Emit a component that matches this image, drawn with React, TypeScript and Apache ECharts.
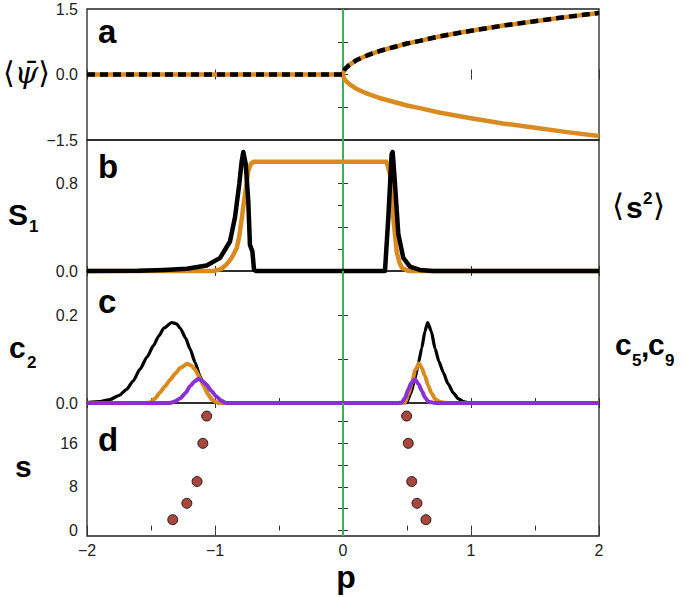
import React, { useEffect, useRef } from "react";
import * as echarts from "echarts";

// ---------- data ----------
// panel a: order parameter <psi-bar> vs p
const psiUpper: number[][] = [
  [-2, 0], [-1, 0], [0, 0], [0.005, 0.07], [0.01, 0.1], [0.02, 0.14], [0.05, 0.22], [0.1, 0.32],
  [0.15, 0.39], [0.2, 0.45], [0.3, 0.55], [0.4, 0.63], [0.5, 0.71], [0.6, 0.77], [0.75, 0.87],
  [0.9, 0.95], [1, 1.0], [1.25, 1.12], [1.5, 1.22], [1.75, 1.32], [2, 1.41],
];
const psiLower: number[][] = [
  [0, 0], [0.005, -0.07], [0.01, -0.1], [0.02, -0.14], [0.05, -0.22], [0.1, -0.32],
  [0.15, -0.39], [0.2, -0.45], [0.3, -0.55], [0.4, -0.63], [0.5, -0.71], [0.6, -0.77], [0.75, -0.87],
  [0.9, -0.95], [1, -1.0], [1.25, -1.12], [1.5, -1.22], [1.75, -1.32], [2, -1.41],
];

// panel b: S1 (orange) and <s^2> (black)
const s1Orange: number[][] = [
  [-2, 0], [-1.01, 0], [-0.95, 0.02], [-0.91, 0.06], [-0.87, 0.12], [-0.83, 0.21], [-0.81, 0.32],
  [-0.79, 0.49], [-0.766, 0.7], [-0.74, 0.92], [-0.72, 0.98], [-0.7, 1.0], [0.34, 1.0],
  [0.367, 0.89], [0.393, 0.49], [0.419, 0.18], [0.44, 0.08], [0.46, 0.03], [0.51, 0], [2, 0],
];
const s2Black: number[][] = [
  [-2, 0], [-1.6, 0.003], [-1.4, 0.01], [-1.22, 0.02], [-1.065, 0.05], [-0.96, 0.12], [-0.883, 0.27],
  [-0.844, 0.49], [-0.81, 0.8], [-0.792, 1.0], [-0.779, 1.09], [-0.76, 0.98], [-0.74, 0.64],
  [-0.727, 0.24], [-0.715, 0.2], [-0.708, 0.18], [-0.695, 0.01], [-0.68, 0], [0.328, 0],
  [0.354, 0.49], [0.38, 1.07], [0.388, 1.09], [0.406, 0.8], [0.432, 0.34], [0.471, 0.12],
  [0.523, 0.04], [0.6, 0.01], [0.7, 0], [2, 0],
];

// panel c: c2 (black), c5 (orange), c9 (purple)
const c2Black: number[][] = [
  [-2, 0.001], [-1.9, 0.003], [-1.82, 0.008], [-1.75, 0.017], [-1.69, 0.031], [-1.64, 0.05],
  [-1.586, 0.077], [-1.53, 0.105], [-1.48, 0.131], [-1.44, 0.152], [-1.4, 0.17], [-1.338, 0.183],
  [-1.3, 0.18], [-1.27, 0.169], [-1.23, 0.148], [-1.195, 0.123], [-1.155, 0.092], [-1.117, 0.061],
  [-1.085, 0.038], [-1.052, 0.019], [-1.02, 0.007], [-1.0, 0.002], [-0.97, 0], [0.45, 0],
  [0.497, 0.001], [0.53, 0.022], [0.5625, 0.056], [0.59, 0.092], [0.615, 0.124], [0.64, 0.163],
  [0.661, 0.183], [0.69, 0.163], [0.719, 0.124], [0.75, 0.094], [0.784, 0.069], [0.82, 0.044],
  [0.862, 0.023], [0.9, 0.01], [0.94, 0.003], [0.99, 0], [2, 0],
];
const c5Orange: number[][] = [
  [-2, 0], [-1.55, 0], [-1.508, 0.001], [-1.47, 0.01], [-1.43, 0.024], [-1.39, 0.038], [-1.35, 0.053],
  [-1.31, 0.067], [-1.27, 0.08], [-1.216, 0.089], [-1.185, 0.085], [-1.156, 0.076], [-1.12, 0.058],
  [-1.09, 0.04], [-1.06, 0.022], [-1.026, 0.008], [-0.99, 0.002], [-0.96, 0], [0.45, 0],
  [0.484, 0.001], [0.51, 0.018], [0.537, 0.045], [0.565, 0.075], [0.594, 0.09], [0.615, 0.08],
  [0.64, 0.062], [0.665, 0.04], [0.69, 0.023], [0.72, 0.009], [0.758, 0.002], [0.8, 0], [2, 0],
];
const c9Purple: number[][] = [
  [-2, 0], [-1.35, 0], [-1.31, 0.004], [-1.27, 0.011], [-1.23, 0.023], [-1.195, 0.038], [-1.16, 0.049],
  [-1.13, 0.055], [-1.1, 0.05], [-1.067, 0.042], [-1.03, 0.028], [-0.99, 0.015], [-0.95, 0.005],
  [-0.91, 0], [0.43, 0], [0.458, 0.001], [0.485, 0.012], [0.51, 0.031], [0.535, 0.046],
  [0.5625, 0.054], [0.59, 0.043], [0.615, 0.028], [0.64, 0.013], [0.667, 0.003], [0.72, 0], [2, 0],
];

// panel d: transition points vs s
const sLeft: number[][] = [[-1.33, 2], [-1.22, 5], [-1.14, 9], [-1.095, 16], [-1.065, 21]];
const sRight: number[][] = [[0.648, 2], [0.578, 5], [0.537, 9], [0.51, 16], [0.497, 21]];

// axes
const xRange = [-2, 2];
const xLabels = [-2, -1, 0, 1, 2];
const criticalP = 0;
const aRange = [-1.5, 1.5];
const aTicks = [-1.5, -0.75, 0, 0.75, 1.5];
const aLabels = [-1.5, 0, 1.5];
const bRange = [0, 1.2];
const bTicksLeft = [0, 0.4, 0.8, 1.2];
const bTicksRight = [0, 0.2, 0.4, 0.6, 0.8, 1.0, 1.2];
const bLabels = [0, 0.8];
const cRange = [0, 0.3];
const cTicks = [0, 0.1, 0.2, 0.3];
const cLabels = [0, 0.2];
const dRange = [-1, 23.4];
const dTicks = [0, 4, 8, 12, 16, 20];
const dLabels = [0, 8, 16];

// ---------- styles ----------
const ORANGE = "#d98b1f";
const PURPLE = "#8a2fd6";
const GREEN = "#3fae5a";
const DOT = "#921a0b";
const FONT = "Liberation Sans, Arial, sans-serif";

const minus = (s: string) => s.replace("-", "\u2212");

const grids = [
  { top: 9, height: 131 },
  { top: 140, height: 131 },
  { top: 271, height: 132 },
  { top: 403, height: 133 },
];

function mkX(gi: number, pos: "top" | "bottom", showLabels: boolean, interval: number) {
  return {
    type: "value",
    gridIndex: gi,
    min: xRange[0],
    max: xRange[1],
    interval,
    position: pos,
    axisLine: { show: false },
    splitLine: { show: false },
    axisTick: { show: true, inside: true, length: 5, lineStyle: { color: "#333", width: 1 } },
    axisLabel: {
      show: showLabels,
      customValues: xLabels,
      margin: 6,
      fontSize: 16,
      fontFamily: FONT,
      color: "#222",
      formatter: (v: number) => minus(String(v)),
    },
  };
}

function mkY(
  gi: number,
  pos: "left" | "right",
  range: number[],
  ticks: number[],
  labels: number[],
  digits: number
) {
  return {
    type: "value",
    gridIndex: gi,
    min: range[0],
    max: range[1],
    position: pos,
    axisLine: { show: false },
    splitLine: { show: false },
    axisTick: { show: true, inside: true, length: 5, customValues: ticks, lineStyle: { color: "#333", width: 1 } },
    axisLabel: {
      show: labels.length > 0,
      customValues: labels.length > 0 ? labels : undefined,
      margin: 9,
      fontSize: 16,
      fontFamily: FONT,
      color: "#222",
      formatter: (v: number) => minus(v.toFixed(digits)),
    },
  };
}

function line(gi: number, data: number[][], color: string, width: number, extra: any = {}) {
  return {
    type: "line",
    xAxisIndex: gi * 2,
    yAxisIndex: gi * 2,
    data,
    symbol: "none",
    clip: false,
    lineStyle: { color, width, join: "round", cap: "butt" },
    silent: true,
    ...extra,
  };
}

function greenLine(gi: number, range: number[]) {
  return line(gi, [[criticalP, range[0]], [criticalP, range[1]]], GREEN, 2);
}

function txt(x: number, y: number, text: string, font: string, align = "center") {
  return {
    type: "text",
    x,
    y,
    silent: true,
    style: { text, font, fill: "#000", align, verticalAlign: "middle" },
  };
}

export default function App() {
  const ref = useRef<HTMLDivElement>(null);
  useEffect(() => {
    document.body.style.margin = "0";
    const chart = echarts.init(ref.current!, null, { renderer: "svg" });
    const BOLD = `bold 30px ${FONT}`;
    const SUB = `bold 17px ${FONT}`;
    const LET = `bold 33px ${FONT}`;
    chart.setOption({
      animation: false,
      grid: grids.map((g) => ({
        left: 87,
        width: 512,
        top: g.top,
        height: g.height,
        show: true,
        borderColor: "#222",
        borderWidth: 1.3,
        backgroundColor: "transparent",
        containLabel: false,
      })),
      xAxis: [
        mkX(0, "bottom", false, 1), mkX(0, "top", false, 1),
        mkX(1, "bottom", false, 1), mkX(1, "top", false, 1),
        mkX(2, "bottom", false, 0.5), mkX(2, "top", false, 1),
        mkX(3, "bottom", true, 0.5), mkX(3, "top", false, 1),
      ],
      yAxis: [
        mkY(0, "left", aRange, aTicks, aLabels, 1), mkY(0, "right", aRange, aTicks, [], 1),
        mkY(1, "left", bRange, bTicksLeft, bLabels, 1), mkY(1, "right", bRange, bTicksRight, [], 1),
        mkY(2, "left", cRange, cTicks, cLabels, 1), mkY(2, "right", cRange, cTicks, [], 1),
        mkY(3, "left", dRange, dTicks, dLabels, 0), mkY(3, "right", dRange, dTicks, [], 0),
      ],
      series: [
        greenLine(0, aRange),
        line(0, psiLower, ORANGE, 4.5),
        line(0, psiUpper, ORANGE, 4.5),
        line(0, psiUpper, "#000", 4.5, { lineStyle: { color: "#000", width: 4.5, type: [8, 5], cap: "butt" } }),
        greenLine(1, bRange),
        line(1, s1Orange, ORANGE, 4.5),
        line(1, s2Black, "#000", 4.5),
        greenLine(2, cRange),
        line(2, c2Black, "#000", 3.2, { smooth: 0.2, smoothMonotone: "x" }),
        line(2, c5Orange, ORANGE, 4, { smooth: 0.2, smoothMonotone: "x" }),
        line(2, c9Purple, PURPLE, 4, { smooth: 0.2, smoothMonotone: "x" }),
        greenLine(3, dRange),
        {
          type: "scatter",
          xAxisIndex: 6,
          yAxisIndex: 6,
          data: [...sLeft, ...sRight],
          symbol: "circle",
          symbolSize: 10,
          silent: true,
          itemStyle: { color: DOT, borderColor: "#000", borderWidth: 1 },
        },
      ],
      graphic: [
        // panel letters
        txt(98, 31, "a", LET, "left"),
        txt(98, 166, "b", LET, "left"),
        txt(98, 301, "c", LET, "left"),
        txt(98, 439, "d", LET, "left"),
        // left titles
        {
          type: "text",
          x: 3,
          y: 72,
          silent: true,
          style: {
            text: "{b|\u27E8}{i|\u03C8\u0304}{b|\u27E9}",
            align: "left",
            verticalAlign: "middle",
            rich: {
              b: { font: `30px DejaVu Sans`, fill: "#000" },
              i: { font: `italic 30px DejaVu Serif`, fill: "#000" },
            },
          },
        },
        txt(8, 214, "S", BOLD, "left"),
        txt(29, 226, "1", SUB, "left"),
        txt(9, 347, "c", BOLD, "left"),
        txt(27, 362, "2", SUB, "left"),
        txt(15, 466, "s", BOLD, "left"),
        // bottom title
        txt(346, 577, "p", `bold 32px ${FONT}`),
        // right titles
        txt(612, 205, "\u27E8", `31px DejaVu Sans`, "left"),
        txt(626, 207, "s", BOLD, "left"),
        txt(643, 198, "2", SUB, "left"),
        txt(653, 205, "\u27E9", `31px DejaVu Sans`, "left"),
        txt(615, 344, "c", BOLD, "left"),
        txt(632, 360, "5", SUB, "left"),
        txt(641, 346, ",", BOLD, "left"),
        txt(648, 344, "c", BOLD, "left"),
        txt(665, 360, "9", SUB, "left"),
      ],
    });
    return () => chart.dispose();
  }, []);
  return <div ref={ref} style={{ width: 685, height: 597 }} />;
}
